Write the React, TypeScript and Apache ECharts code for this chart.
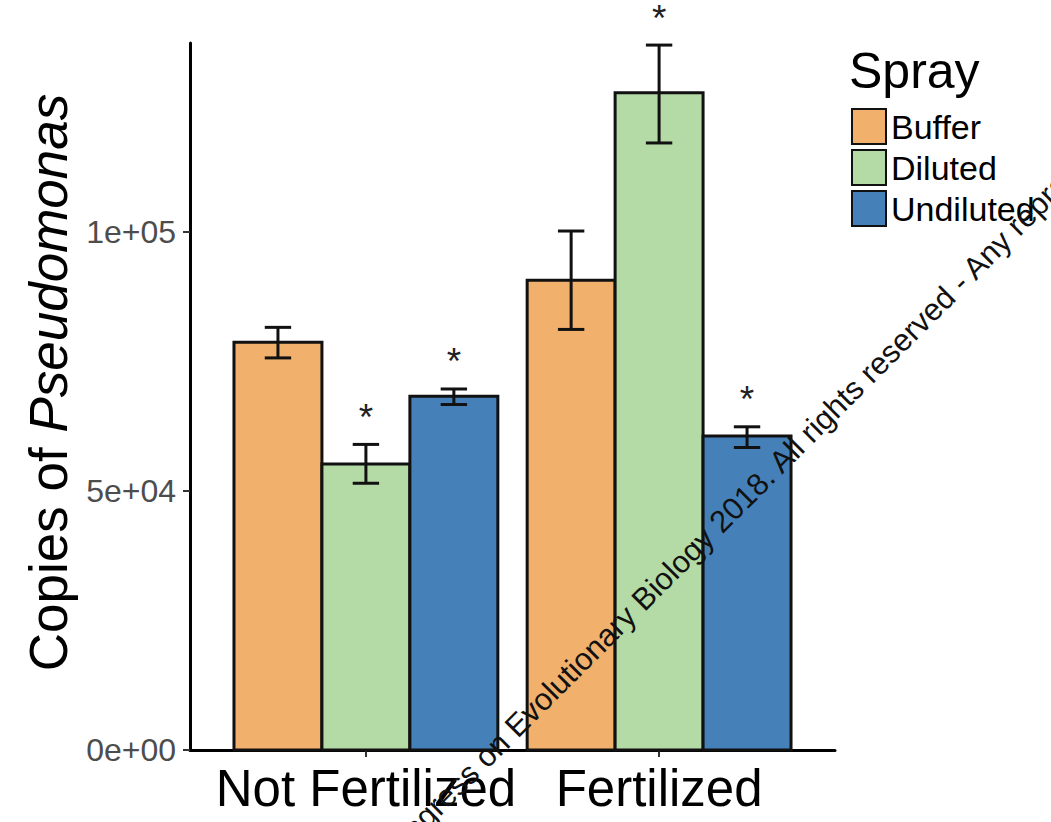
import React, { useEffect, useRef } from 'react';
import * as echarts from 'echarts';

const groups = ['Not Fertilized', 'Fertilized'];
const sprays = ['Buffer', 'Diluted', 'Undiluted'];

const bufferMean = [78700, 90700];
const bufferLow = [75700, 81200];
const bufferHigh = [81600, 100200];
const bufferSig = [false, false];

const dilutedMean = [55200, 126900];
const dilutedLow = [51500, 117200];
const dilutedHigh = [59000, 136100];
const dilutedSig = [true, true];

const undilutedMean = [68300, 60600];
const undilutedLow = [66700, 58400];
const undilutedHigh = [69700, 62400];
const undilutedSig = [true, true];

const yTicks = [0, 50000, 100000];
const colors = ['#f1b06c', '#b4dba6', '#4581b8'];

const FONT = '"Liberation Sans", Arial, Helvetica, sans-serif';
const DODGE = 0.9;
const BAR_W = DODGE / 3;
const CAP_W = 0.09;

function fmtExp(v: number): string {
  if (v === 0) return '0e+00';
  const e = Math.floor(Math.log10(v));
  const m = Math.round(v / Math.pow(10, e));
  return `${m}e+${String(e).padStart(2, '0')}`;
}

function makeRender(si: number) {
  return (params: any, api: any) => {
    const xc = api.value(0) + (si - 1) * BAR_W;
    const mean = api.value(1);
    const lo = api.value(2);
    const hi = api.value(3);
    const sig = api.value(4);
    const tl = api.coord([xc - BAR_W / 2, mean]);
    const br = api.coord([xc + BAR_W / 2, 0]);
    const pLo = api.coord([xc, lo]);
    const pHi = api.coord([xc, hi]);
    const capL = api.coord([xc - CAP_W / 2, hi])[0];
    const capR = api.coord([xc + CAP_W / 2, hi])[0];
    const lineStyle = { stroke: '#111', lineWidth: 3 };
    const children: any[] = [
      {
        type: 'rect',
        shape: { x: tl[0], y: tl[1], width: br[0] - tl[0], height: br[1] - tl[1] },
        style: { fill: colors[si], stroke: '#111', lineWidth: 3 },
      },
      { type: 'line', shape: { x1: pLo[0], y1: pLo[1], x2: pHi[0], y2: pHi[1] }, style: lineStyle },
      { type: 'line', shape: { x1: capL, y1: pHi[1], x2: capR, y2: pHi[1] }, style: lineStyle },
      { type: 'line', shape: { x1: capL, y1: pLo[1], x2: capR, y2: pLo[1] }, style: lineStyle },
    ];
    if (sig) {
      children.push({
        type: 'text',
        x: pHi[0],
        y: pHi[1] - 27,
        style: {
          text: '*',
          fontSize: 37,
          lineHeight: 24,
          fontFamily: FONT,
          textAlign: 'center',
          textVerticalAlign: 'middle',
          fill: '#222',
        },
      });
    }
    return { type: 'group', children };
  };
}

const seriesData = [
  { mean: bufferMean, low: bufferLow, high: bufferHigh, sig: bufferSig },
  { mean: dilutedMean, low: dilutedLow, high: dilutedHigh, sig: dilutedSig },
  { mean: undilutedMean, low: undilutedLow, high: undilutedHigh, sig: undilutedSig },
];

export default function App() {
  const ref = useRef<HTMLDivElement>(null);
  useEffect(() => {
    if (!ref.current) return;
    const chart = echarts.init(ref.current, undefined, { renderer: 'svg' });
    const option: any = {
      animation: false,
      backgroundColor: '#ffffff',
      textStyle: { fontFamily: FONT },
      title: {
        text: 'Spray',
        left: 849,
        top: 46,
        padding: 0,
        textStyle: { fontSize: 50, fontWeight: 'normal', color: '#000', fontFamily: FONT },
      },
      legend: {
        orient: 'vertical',
        left: 851,
        top: 108,
        padding: 0,
        itemWidth: 34,
        itemHeight: 35,
        itemGap: 4,
        icon: 'rect',
        selectedMode: false,
        textStyle: { fontSize: 34, color: '#000', fontFamily: FONT },
        data: sprays,
      },
      grid: { left: 190, right: 216, top: 43, bottom: 72, containLabel: false },
      xAxis: {
        type: 'value',
        min: 0.4,
        max: 2.6,
        splitLine: { show: false },
        axisLine: { show: true, lineStyle: { color: '#000', width: 3 } },
        axisTick: { show: true, customValues: [1, 2], length: 7, lineStyle: { color: '#333', width: 2 } },
        axisLabel: {
          customValues: [1, 2],
          formatter: (v: number) => groups[Math.round(v) - 1] ?? '',
          fontSize: 51,
          color: '#000',
          margin: 13,
          fontFamily: FONT,
        },
      },
      yAxis: {
        type: 'value',
        min: 0,
        max: 136500,
        splitLine: { show: false },
        axisLine: { show: true, lineStyle: { color: '#000', width: 3 } },
        axisTick: { show: true, customValues: yTicks, length: 7, lineStyle: { color: '#333', width: 2 } },
        axisLabel: {
          customValues: yTicks,
          formatter: (v: number) => fmtExp(v),
          fontSize: 32,
          color: '#4d4d4d',
          margin: 14,
          fontFamily: FONT,
        },
        name: '{a|Copies of }{b|Pseudomonas}',
        nameLocation: 'middle',
        nameRotate: 90,
        nameGap: 114,
        nameTextStyle: {
          fontSize: 53,
          color: '#000',
          fontFamily: FONT,
          padding: [0, 0, 0, 28],
          rich: {
            a: { fontSize: 53, color: '#000', fontFamily: FONT },
            b: { fontSize: 53, color: '#000', fontStyle: 'italic', fontFamily: FONT },
          },
        },
      },
      graphic: [
        {
          type: 'text',
          x: 380,
          y: 862,
          rotation: Math.PI / 4,
          z: 100,
          style: {
            text: 'Congress on Evolutionary Biology 2018. All rights reserved - Any reproduction',
            fontSize: 31,
            fontFamily: FONT,
            fill: '#111',
            textVerticalAlign: 'middle',
          },
        },
      ],
      series: seriesData.map((s, si) => ({
        type: 'custom',
        name: sprays[si],
        itemStyle: { color: colors[si], borderColor: '#111', borderWidth: 2 },
        renderItem: makeRender(si),
        encode: { x: 0, y: [1, 2, 3] },
        data: groups.map((g, i) => [i + 1, s.mean[i], s.low[i], s.high[i], s.sig[i] ? 1 : 0]),
      })),
    };
    chart.setOption(option);
    return () => chart.dispose();
  }, []);
  return (
    <div
      ref={ref}
      style={{ position: 'absolute', left: 0, top: 0, width: 1051, height: 822 }}
    />
  );
}
